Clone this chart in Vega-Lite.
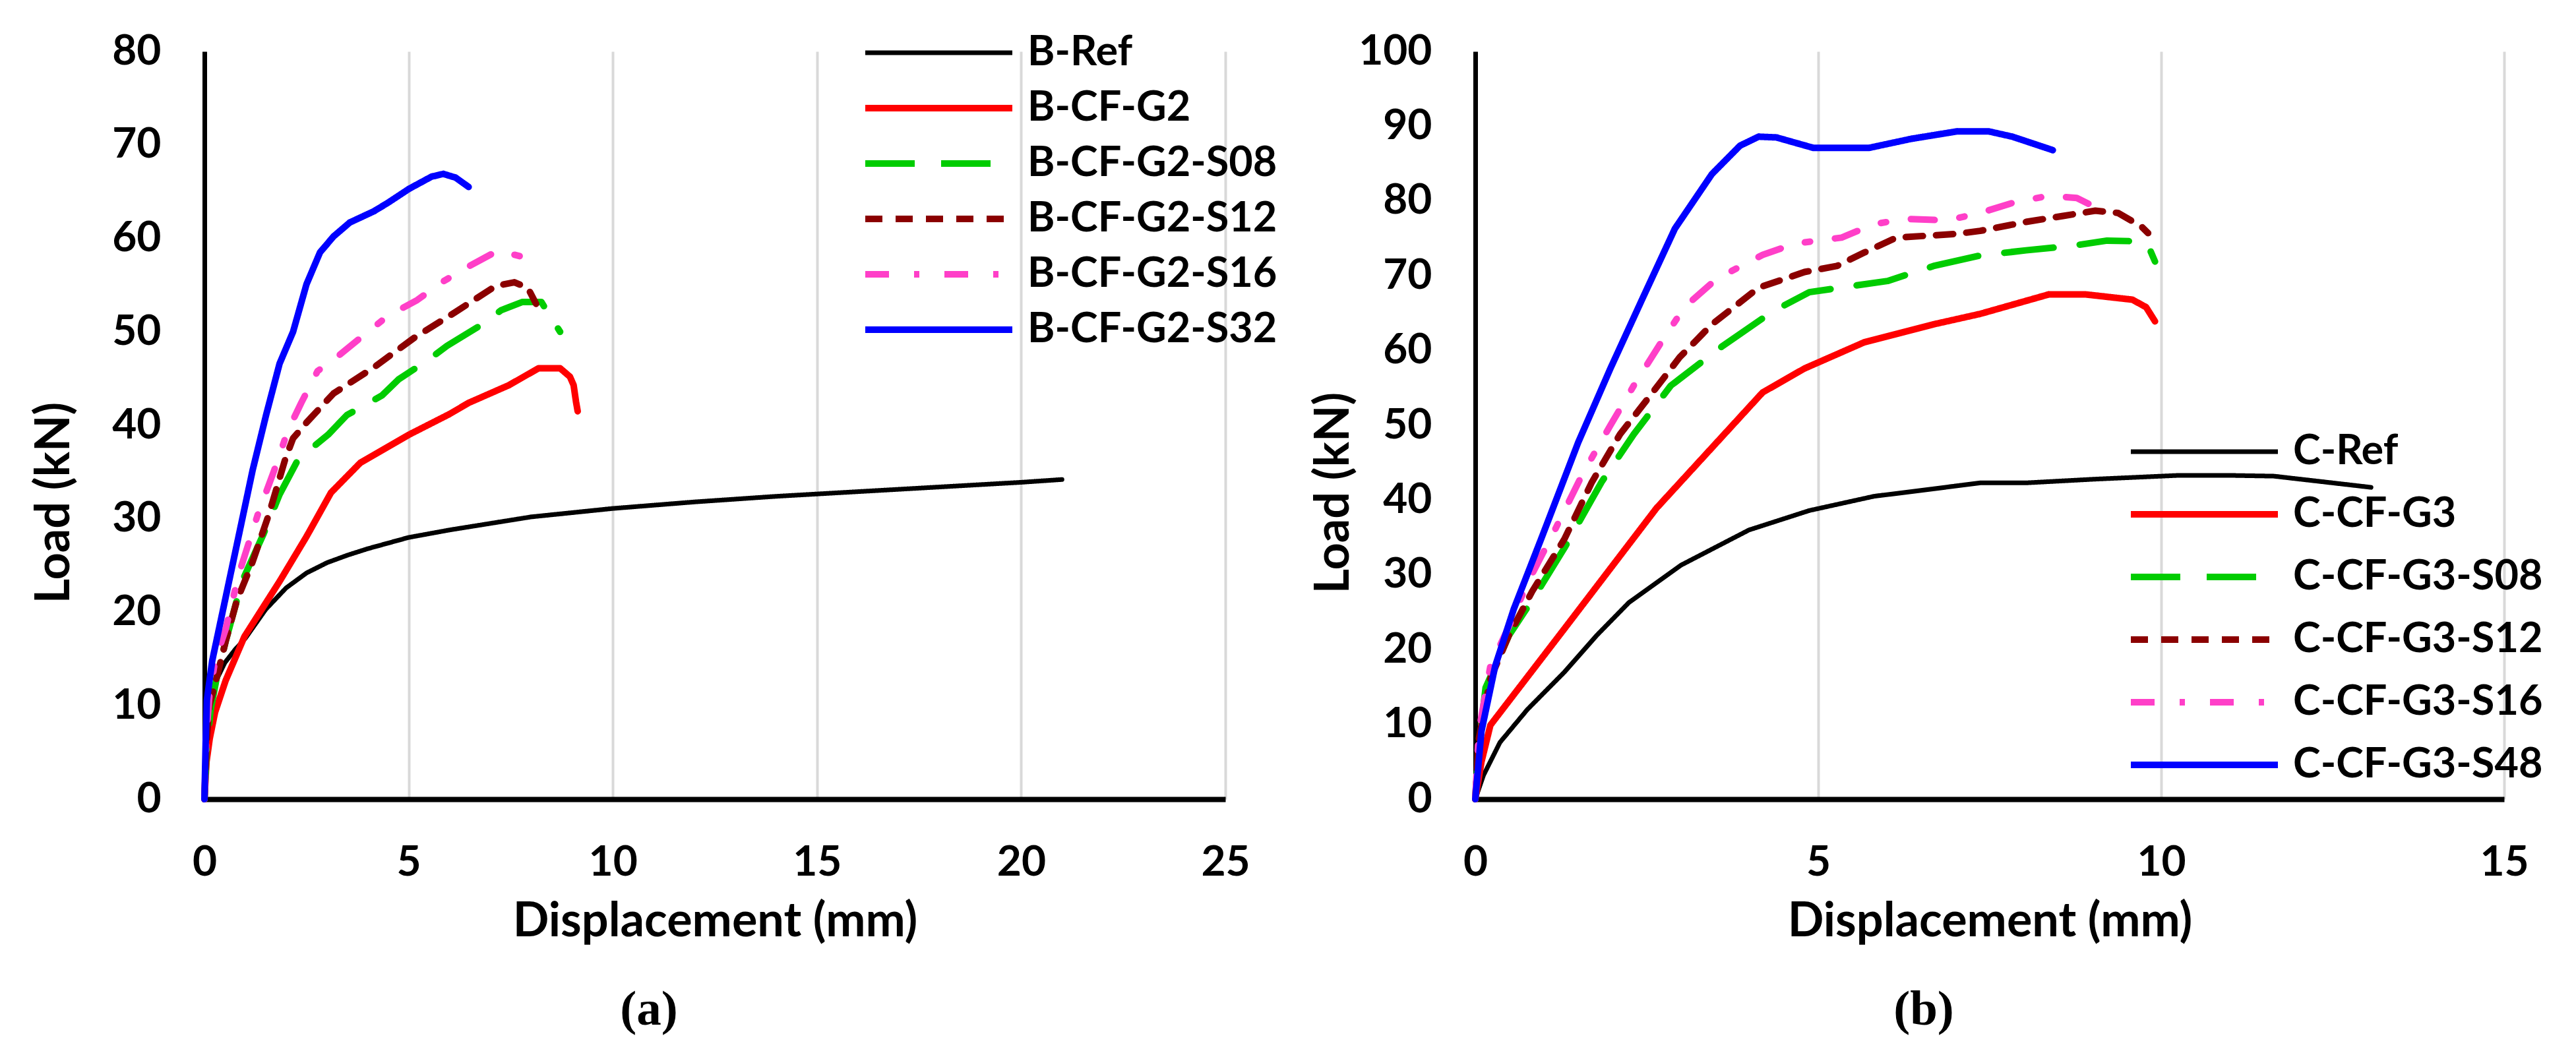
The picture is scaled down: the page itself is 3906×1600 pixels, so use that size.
{
  "$schema": "https://vega.github.io/schema/vega-lite/v6.json",
  "autosize": {"type": "pad"},
  "padding": {"left": 46, "top": 46, "right": 10, "bottom": 10},
  "background": "white",
  "bounds": "flush",
  "spacing": 379,
  "config": {
    "view": {"stroke": null},
    "font": "Lato",
    "axis": {
      "ticks": false,
      "tickSize": 0,
      "domainColor": "#000000",
      "labelFont": "Lato",
      "labelFontSize": 64,
      "labelFontWeight": "bold",
      "labelColor": "#000000",
      "labelFlush": false,
      "labelOverlap": false,
      "labelBound": false,
      "titleFont": "Lato",
      "titleFontSize": 72,
      "titleFontWeight": "bold",
      "titleColor": "#000000"
    },
    "axisX": {
      "grid": true,
      "gridColor": "#D9D9D9",
      "gridWidth": 4,
      "domainWidth": 8,
      "labelPadding": 96,
      "labelBaseline": "middle",
      "titleY": 185,
      "titleBaseline": "middle"
    },
    "axisY": {
      "grid": false,
      "domainWidth": 7,
      "labelPadding": 66,
      "titleBaseline": "middle"
    },
    "legend": {
      "title": null,
      "orient": "none",
      "symbolType": "stroke",
      "symbolSize": 49729,
      "symbolStrokeWidth": 12,
      "clipHeight": 64,
      "labelFont": "Lato",
      "labelFontSize": 63,
      "labelFontWeight": "bold",
      "labelColor": "#000000",
      "labelLimit": 0,
      "labelOffset": 18
    },
    "title": {
      "font": "Liberation Serif",
      "fontSize": 75,
      "fontWeight": "bold",
      "color": "#000000",
      "orient": "bottom",
      "offset": 62,
      "dx": -100
    }
  },
  "datasets": {
    "beams_b": [
      {"series": "B-Ref", "disp": 0, "load": 0},
      {"series": "B-Ref", "disp": 0.03, "load": 4},
      {"series": "B-Ref", "disp": 0.08, "load": 8},
      {"series": "B-Ref", "disp": 0.15, "load": 10.5},
      {"series": "B-Ref", "disp": 0.3, "load": 12.8},
      {"series": "B-Ref", "disp": 0.5, "load": 14.6},
      {"series": "B-Ref", "disp": 0.75, "load": 16},
      {"series": "B-Ref", "disp": 1.0, "load": 17.2},
      {"series": "B-Ref", "disp": 1.5, "load": 20.3},
      {"series": "B-Ref", "disp": 2.0, "load": 22.6},
      {"series": "B-Ref", "disp": 2.5, "load": 24.2},
      {"series": "B-Ref", "disp": 3.0, "load": 25.3},
      {"series": "B-Ref", "disp": 3.5, "load": 26.1},
      {"series": "B-Ref", "disp": 4.0, "load": 26.8},
      {"series": "B-Ref", "disp": 5.0, "load": 28},
      {"series": "B-Ref", "disp": 6.0, "load": 28.8},
      {"series": "B-Ref", "disp": 7.0, "load": 29.5},
      {"series": "B-Ref", "disp": 8.0, "load": 30.2},
      {"series": "B-Ref", "disp": 10.0, "load": 31.1},
      {"series": "B-Ref", "disp": 12.0, "load": 31.8},
      {"series": "B-Ref", "disp": 14.0, "load": 32.4},
      {"series": "B-Ref", "disp": 16.0, "load": 32.9},
      {"series": "B-Ref", "disp": 18.0, "load": 33.4},
      {"series": "B-Ref", "disp": 20.0, "load": 33.9},
      {"series": "B-Ref", "disp": 21.0, "load": 34.2},

      {"series": "B-CF-G2", "disp": 0, "load": 0},
      {"series": "B-CF-G2", "disp": 0.05, "load": 4},
      {"series": "B-CF-G2", "disp": 0.13, "load": 6.5},
      {"series": "B-CF-G2", "disp": 0.26, "load": 9.3},
      {"series": "B-CF-G2", "disp": 0.52, "load": 12.7},
      {"series": "B-CF-G2", "disp": 0.98, "load": 17.4},
      {"series": "B-CF-G2", "disp": 1.84, "load": 23.3},
      {"series": "B-CF-G2", "disp": 2.5, "load": 28.1},
      {"series": "B-CF-G2", "disp": 3.1, "load": 32.8},
      {"series": "B-CF-G2", "disp": 3.82, "load": 36},
      {"series": "B-CF-G2", "disp": 5.01, "load": 39},
      {"series": "B-CF-G2", "disp": 6.0, "load": 41.2},
      {"series": "B-CF-G2", "disp": 6.47, "load": 42.4},
      {"series": "B-CF-G2", "disp": 7.46, "load": 44.3},
      {"series": "B-CF-G2", "disp": 8.18, "load": 46.1},
      {"series": "B-CF-G2", "disp": 8.71, "load": 46.1},
      {"series": "B-CF-G2", "disp": 8.95, "load": 45.2},
      {"series": "B-CF-G2", "disp": 9.04, "load": 44.3},
      {"series": "B-CF-G2", "disp": 9.1, "load": 42.5},
      {"series": "B-CF-G2", "disp": 9.14, "load": 41.5},

      {"series": "B-CF-G2-S08", "disp": 0, "load": 0},
      {"series": "B-CF-G2-S08", "disp": 0.05, "load": 5},
      {"series": "B-CF-G2-S08", "disp": 0.15, "load": 9.5},
      {"series": "B-CF-G2-S08", "disp": 0.3, "load": 13},
      {"series": "B-CF-G2-S08", "disp": 0.52, "load": 16.9},
      {"series": "B-CF-G2-S08", "disp": 0.92, "load": 23.3},
      {"series": "B-CF-G2-S08", "disp": 1.45, "load": 28.4},
      {"series": "B-CF-G2-S08", "disp": 1.84, "load": 32.6},
      {"series": "B-CF-G2-S08", "disp": 2.3, "load": 36.4},
      {"series": "B-CF-G2-S08", "disp": 3.03, "load": 39},
      {"series": "B-CF-G2-S08", "disp": 3.49, "load": 41.1},
      {"series": "B-CF-G2-S08", "disp": 4.35, "load": 43.2},
      {"series": "B-CF-G2-S08", "disp": 4.75, "load": 44.9},
      {"series": "B-CF-G2-S08", "disp": 5.48, "load": 47},
      {"series": "B-CF-G2-S08", "disp": 5.94, "load": 48.5},
      {"series": "B-CF-G2-S08", "disp": 6.8, "load": 50.8},
      {"series": "B-CF-G2-S08", "disp": 7.26, "load": 52.3},
      {"series": "B-CF-G2-S08", "disp": 7.79, "load": 53.2},
      {"series": "B-CF-G2-S08", "disp": 8.25, "load": 53.2},
      {"series": "B-CF-G2-S08", "disp": 8.52, "load": 51.3},
      {"series": "B-CF-G2-S08", "disp": 8.71, "load": 50},

      {"series": "B-CF-G2-S12", "disp": 0, "load": 0},
      {"series": "B-CF-G2-S12", "disp": 0.05, "load": 6},
      {"series": "B-CF-G2-S12", "disp": 0.12, "load": 10},
      {"series": "B-CF-G2-S12", "disp": 0.26, "load": 12.3},
      {"series": "B-CF-G2-S12", "disp": 0.52, "load": 16.9},
      {"series": "B-CF-G2-S12", "disp": 0.79, "load": 21.2},
      {"series": "B-CF-G2-S12", "disp": 1.18, "load": 25.4},
      {"series": "B-CF-G2-S12", "disp": 1.58, "load": 30.5},
      {"series": "B-CF-G2-S12", "disp": 1.98, "load": 36.4},
      {"series": "B-CF-G2-S12", "disp": 2.17, "load": 38.6},
      {"series": "B-CF-G2-S12", "disp": 2.5, "load": 40.3},
      {"series": "B-CF-G2-S12", "disp": 3.16, "load": 43.4},
      {"series": "B-CF-G2-S12", "disp": 4.15, "load": 46.2},
      {"series": "B-CF-G2-S12", "disp": 5.15, "load": 49.4},
      {"series": "B-CF-G2-S12", "disp": 6.14, "load": 52.1},
      {"series": "B-CF-G2-S12", "disp": 7.13, "load": 54.9},
      {"series": "B-CF-G2-S12", "disp": 7.59, "load": 55.3},
      {"series": "B-CF-G2-S12", "disp": 7.92, "load": 54.7},
      {"series": "B-CF-G2-S12", "disp": 8.12, "load": 53},

      {"series": "B-CF-G2-S16", "disp": 0, "load": 0},
      {"series": "B-CF-G2-S16", "disp": 0.05, "load": 7},
      {"series": "B-CF-G2-S16", "disp": 0.12, "load": 11},
      {"series": "B-CF-G2-S16", "disp": 0.26, "load": 14.8},
      {"series": "B-CF-G2-S16", "disp": 0.52, "load": 18.2},
      {"series": "B-CF-G2-S16", "disp": 0.85, "load": 24.2},
      {"series": "B-CF-G2-S16", "disp": 1.31, "load": 30.5},
      {"series": "B-CF-G2-S16", "disp": 1.71, "load": 35.2},
      {"series": "B-CF-G2-S16", "disp": 2.04, "load": 39.4},
      {"series": "B-CF-G2-S16", "disp": 2.37, "load": 42.4},
      {"series": "B-CF-G2-S16", "disp": 2.77, "load": 45.8},
      {"series": "B-CF-G2-S16", "disp": 3.3, "load": 47.5},
      {"series": "B-CF-G2-S16", "disp": 3.89, "load": 49.6},
      {"series": "B-CF-G2-S16", "disp": 4.49, "load": 51.7},
      {"series": "B-CF-G2-S16", "disp": 5.21, "load": 53.4},
      {"series": "B-CF-G2-S16", "disp": 5.81, "load": 55.3},
      {"series": "B-CF-G2-S16", "disp": 6.47, "load": 57},
      {"series": "B-CF-G2-S16", "disp": 7.19, "load": 58.7},
      {"series": "B-CF-G2-S16", "disp": 7.72, "load": 58.1},
      {"series": "B-CF-G2-S16", "disp": 8.05, "load": 57},

      {"series": "B-CF-G2-S32", "disp": 0, "load": 0},
      {"series": "B-CF-G2-S32", "disp": 0.03, "load": 6},
      {"series": "B-CF-G2-S32", "disp": 0.06, "load": 10.6},
      {"series": "B-CF-G2-S32", "disp": 0.19, "load": 14.8},
      {"series": "B-CF-G2-S32", "disp": 0.52, "load": 21.6},
      {"series": "B-CF-G2-S32", "disp": 0.85, "load": 28.4},
      {"series": "B-CF-G2-S32", "disp": 1.18, "load": 35.2},
      {"series": "B-CF-G2-S32", "disp": 1.51, "load": 41.1},
      {"series": "B-CF-G2-S32", "disp": 1.84, "load": 46.6},
      {"series": "B-CF-G2-S32", "disp": 2.17, "load": 50},
      {"series": "B-CF-G2-S32", "disp": 2.5, "load": 55.1},
      {"series": "B-CF-G2-S32", "disp": 2.83, "load": 58.5},
      {"series": "B-CF-G2-S32", "disp": 3.16, "load": 60.2},
      {"series": "B-CF-G2-S32", "disp": 3.56, "load": 61.7},
      {"series": "B-CF-G2-S32", "disp": 4.15, "load": 62.9},
      {"series": "B-CF-G2-S32", "disp": 4.49, "load": 63.8},
      {"series": "B-CF-G2-S32", "disp": 5.01, "load": 65.3},
      {"series": "B-CF-G2-S32", "disp": 5.56, "load": 66.6},
      {"series": "B-CF-G2-S32", "disp": 5.85, "load": 66.9},
      {"series": "B-CF-G2-S32", "disp": 6.15, "load": 66.5},
      {"series": "B-CF-G2-S32", "disp": 6.47, "load": 65.5}
    ],
    "columns_c": [
      {"series": "C-Ref", "disp": 0, "load": 0},
      {"series": "C-Ref", "disp": 0.12, "load": 3.2},
      {"series": "C-Ref", "disp": 0.36, "load": 7.6},
      {"series": "C-Ref", "disp": 0.76, "load": 12},
      {"series": "C-Ref", "disp": 1.3, "load": 17},
      {"series": "C-Ref", "disp": 1.77, "load": 21.9},
      {"series": "C-Ref", "disp": 2.24, "load": 26.3},
      {"series": "C-Ref", "disp": 3.0, "load": 31.3},
      {"series": "C-Ref", "disp": 3.99, "load": 36},
      {"series": "C-Ref", "disp": 4.87, "load": 38.6},
      {"series": "C-Ref", "disp": 5.81, "load": 40.5},
      {"series": "C-Ref", "disp": 6.68, "load": 41.5},
      {"series": "C-Ref", "disp": 7.36, "load": 42.3},
      {"series": "C-Ref", "disp": 8.03, "load": 42.3},
      {"series": "C-Ref", "disp": 9.04, "load": 42.8},
      {"series": "C-Ref", "disp": 10.25, "load": 43.3},
      {"series": "C-Ref", "disp": 11.0, "load": 43.3},
      {"series": "C-Ref", "disp": 11.64, "load": 43.2},
      {"series": "C-Ref", "disp": 12.4, "load": 42.4},
      {"series": "C-Ref", "disp": 13.06, "load": 41.7},

      {"series": "C-CF-G3", "disp": 0, "load": 0},
      {"series": "C-CF-G3", "disp": 0.09, "load": 5},
      {"series": "C-CF-G3", "disp": 0.22, "load": 9.9},
      {"series": "C-CF-G3", "disp": 1.3, "load": 22.8},
      {"series": "C-CF-G3", "disp": 2.64, "load": 38.9},
      {"series": "C-CF-G3", "disp": 4.19, "load": 54.4},
      {"series": "C-CF-G3", "disp": 4.8, "load": 57.6},
      {"series": "C-CF-G3", "disp": 5.67, "load": 61.1},
      {"series": "C-CF-G3", "disp": 6.68, "load": 63.5},
      {"series": "C-CF-G3", "disp": 7.36, "load": 64.9},
      {"series": "C-CF-G3", "disp": 8.36, "load": 67.5},
      {"series": "C-CF-G3", "disp": 8.9, "load": 67.5},
      {"series": "C-CF-G3", "disp": 9.58, "load": 66.8},
      {"series": "C-CF-G3", "disp": 9.78, "load": 65.8},
      {"series": "C-CF-G3", "disp": 9.91, "load": 63.9},

      {"series": "C-CF-G3-S08", "disp": 0, "load": 0},
      {"series": "C-CF-G3-S08", "disp": 0.05, "load": 7},
      {"series": "C-CF-G3-S08", "disp": 0.15, "load": 14.9},
      {"series": "C-CF-G3-S08", "disp": 0.49, "load": 21.9},
      {"series": "C-CF-G3-S08", "disp": 0.83, "load": 26.6},
      {"series": "C-CF-G3-S08", "disp": 1.3, "load": 33.6},
      {"series": "C-CF-G3-S08", "disp": 1.84, "load": 42.4},
      {"series": "C-CF-G3-S08", "disp": 2.31, "load": 48.8},
      {"series": "C-CF-G3-S08", "disp": 2.85, "load": 55.3},
      {"series": "C-CF-G3-S08", "disp": 3.59, "load": 60.5},
      {"series": "C-CF-G3-S08", "disp": 4.33, "load": 65.2},
      {"series": "C-CF-G3-S08", "disp": 4.87, "load": 67.8},
      {"series": "C-CF-G3-S08", "disp": 5.47, "load": 68.6},
      {"series": "C-CF-G3-S08", "disp": 6.01, "load": 69.3},
      {"series": "C-CF-G3-S08", "disp": 6.68, "load": 71.3},
      {"series": "C-CF-G3-S08", "disp": 7.36, "load": 72.7},
      {"series": "C-CF-G3-S08", "disp": 8.03, "load": 73.4},
      {"series": "C-CF-G3-S08", "disp": 8.7, "load": 74},
      {"series": "C-CF-G3-S08", "disp": 9.21, "load": 74.7},
      {"series": "C-CF-G3-S08", "disp": 9.71, "load": 74.6},
      {"series": "C-CF-G3-S08", "disp": 9.84, "load": 73.4},
      {"series": "C-CF-G3-S08", "disp": 9.91, "load": 71.9},

      {"series": "C-CF-G3-S12", "disp": 0, "load": 0},
      {"series": "C-CF-G3-S12", "disp": 0.05, "load": 8},
      {"series": "C-CF-G3-S12", "disp": 0.22, "load": 16.1},
      {"series": "C-CF-G3-S12", "disp": 0.49, "load": 21.9},
      {"series": "C-CF-G3-S12", "disp": 0.83, "load": 27.8},
      {"series": "C-CF-G3-S12", "disp": 1.3, "load": 34.8},
      {"series": "C-CF-G3-S12", "disp": 1.7, "load": 42.4},
      {"series": "C-CF-G3-S12", "disp": 2.11, "load": 48.8},
      {"series": "C-CF-G3-S12", "disp": 2.51, "load": 53.5},
      {"series": "C-CF-G3-S12", "disp": 2.98, "load": 59.1},
      {"series": "C-CF-G3-S12", "disp": 3.45, "load": 63.5},
      {"series": "C-CF-G3-S12", "disp": 4.13, "load": 68.4},
      {"series": "C-CF-G3-S12", "disp": 4.8, "load": 70.5},
      {"series": "C-CF-G3-S12", "disp": 5.27, "load": 71.3},
      {"series": "C-CF-G3-S12", "disp": 5.67, "load": 73.1},
      {"series": "C-CF-G3-S12", "disp": 6.14, "load": 75.1},
      {"series": "C-CF-G3-S12", "disp": 7.02, "load": 75.6},
      {"series": "C-CF-G3-S12", "disp": 7.36, "load": 76},
      {"series": "C-CF-G3-S12", "disp": 8.03, "load": 77.2},
      {"series": "C-CF-G3-S12", "disp": 8.57, "load": 78},
      {"series": "C-CF-G3-S12", "disp": 9.04, "load": 78.7},
      {"series": "C-CF-G3-S12", "disp": 9.37, "load": 78.4},
      {"series": "C-CF-G3-S12", "disp": 9.71, "load": 76.6},
      {"series": "C-CF-G3-S12", "disp": 9.81, "load": 75.7},

      {"series": "C-CF-G3-S16", "disp": 0, "load": 0},
      {"series": "C-CF-G3-S16", "disp": 0.05, "load": 9},
      {"series": "C-CF-G3-S16", "disp": 0.22, "load": 17.8},
      {"series": "C-CF-G3-S16", "disp": 0.49, "load": 23.1},
      {"series": "C-CF-G3-S16", "disp": 0.76, "load": 28.9},
      {"series": "C-CF-G3-S16", "disp": 1.16, "load": 36},
      {"series": "C-CF-G3-S16", "disp": 1.57, "load": 43.6},
      {"series": "C-CF-G3-S16", "disp": 1.97, "load": 50},
      {"series": "C-CF-G3-S16", "disp": 2.31, "load": 55.3},
      {"series": "C-CF-G3-S16", "disp": 2.71, "load": 61.1},
      {"series": "C-CF-G3-S16", "disp": 3.05, "load": 65.8},
      {"series": "C-CF-G3-S16", "disp": 3.52, "load": 69.6},
      {"series": "C-CF-G3-S16", "disp": 4.19, "load": 72.8},
      {"series": "C-CF-G3-S16", "disp": 4.66, "load": 74.3},
      {"series": "C-CF-G3-S16", "disp": 5.34, "load": 75.1},
      {"series": "C-CF-G3-S16", "disp": 5.81, "load": 76.9},
      {"series": "C-CF-G3-S16", "disp": 6.28, "load": 77.6},
      {"series": "C-CF-G3-S16", "disp": 6.88, "load": 77.4},
      {"series": "C-CF-G3-S16", "disp": 7.36, "load": 78.4},
      {"series": "C-CF-G3-S16", "disp": 7.89, "load": 79.9},
      {"series": "C-CF-G3-S16", "disp": 8.37, "load": 80.7},
      {"series": "C-CF-G3-S16", "disp": 8.77, "load": 80.4},
      {"series": "C-CF-G3-S16", "disp": 8.97, "load": 79.5},

      {"series": "C-CF-G3-S48", "disp": 0, "load": 0},
      {"series": "C-CF-G3-S48", "disp": 0.09, "load": 9.1},
      {"series": "C-CF-G3-S48", "disp": 0.29, "load": 17.8},
      {"series": "C-CF-G3-S48", "disp": 0.56, "load": 25.4},
      {"series": "C-CF-G3-S48", "disp": 0.96, "load": 34.8},
      {"series": "C-CF-G3-S48", "disp": 1.5, "load": 47.7},
      {"series": "C-CF-G3-S48", "disp": 1.97, "load": 57.6},
      {"series": "C-CF-G3-S48", "disp": 2.44, "load": 67},
      {"series": "C-CF-G3-S48", "disp": 2.91, "load": 76.3},
      {"series": "C-CF-G3-S48", "disp": 3.45, "load": 83.6},
      {"series": "C-CF-G3-S48", "disp": 3.86, "load": 87.4},
      {"series": "C-CF-G3-S48", "disp": 4.13, "load": 88.6},
      {"series": "C-CF-G3-S48", "disp": 4.39, "load": 88.5},
      {"series": "C-CF-G3-S48", "disp": 4.93, "load": 87.1},
      {"series": "C-CF-G3-S48", "disp": 5.74, "load": 87.1},
      {"series": "C-CF-G3-S48", "disp": 6.35, "load": 88.3},
      {"series": "C-CF-G3-S48", "disp": 7.02, "load": 89.3},
      {"series": "C-CF-G3-S48", "disp": 7.49, "load": 89.3},
      {"series": "C-CF-G3-S48", "disp": 7.83, "load": 88.6},
      {"series": "C-CF-G3-S48", "disp": 8.42, "load": 86.8}
    ]
  },
  "hconcat": [
    {
      "title": {"text": "(a)"},
      "width": 1548,
      "height": 1134,
      "data": {"name": "beams_b"},
      "mark": {"type": "line", "strokeCap": "round", "strokeJoin": "round"},
      "encoding": {
        "x": {
          "field": "disp",
          "type": "quantitative",
          "scale": {"domain": [0, 25], "nice": false},
          "axis": {"title": "Displacement (mm)", "values": [0, 5, 10, 15, 20, 25]}
        },
        "y": {
          "field": "load",
          "type": "quantitative",
          "scale": {"domain": [0, 80], "nice": false},
          "axis": {"title": "Load (kN)", "values": [0, 10, 20, 30, 40, 50, 60, 70, 80], "titleX": -228, "titleY": 684}
        },
        "color": {
          "field": "series",
          "type": "nominal",
          "scale": {
            "domain": ["B-Ref", "B-CF-G2", "B-CF-G2-S08", "B-CF-G2-S12", "B-CF-G2-S16", "B-CF-G2-S32"],
            "range": ["#000000", "#FF0000", "#00CC00", "#8B0000", "#FF3FC8", "#0000FF"]
          },
          "legend": {"legendX": 997, "legendY": -30, "rowPadding": 20}
        },
        "strokeDash": {
          "field": "series",
          "type": "nominal",
          "scale": {
            "domain": ["B-Ref", "B-CF-G2", "B-CF-G2-S08", "B-CF-G2-S12", "B-CF-G2-S16", "B-CF-G2-S32"],
            "range": [[1, 0], [1, 0], [75, 40], [26, 20], [36, 38, 8, 38], [1, 0]]
          }
        },
        "strokeWidth": {
          "field": "series",
          "type": "nominal",
          "scale": {
            "type": "ordinal",
            "domain": ["B-Ref", "B-CF-G2", "B-CF-G2-S08", "B-CF-G2-S12", "B-CF-G2-S16", "B-CF-G2-S32"],
            "range": [7, 10, 10, 10, 10, 10]
          },
          "legend": null
        }
      }
    },
    {
      "title": {"text": "(b)"},
      "width": 1560,
      "height": 1134,
      "data": {"name": "columns_c"},
      "mark": {"type": "line", "strokeCap": "round", "strokeJoin": "round"},
      "encoding": {
        "x": {
          "field": "disp",
          "type": "quantitative",
          "scale": {"domain": [0, 15], "nice": false},
          "axis": {"title": "Displacement (mm)", "values": [0, 5, 10, 15]}
        },
        "y": {
          "field": "load",
          "type": "quantitative",
          "scale": {"domain": [0, 100], "nice": false},
          "axis": {"title": "Load (kN)", "values": [0, 10, 20, 30, 40, 50, 60, 70, 80, 90, 100], "titleX": -215, "titleY": 669}
        },
        "color": {
          "field": "series",
          "type": "nominal",
          "scale": {
            "domain": ["C-Ref", "C-CF-G3", "C-CF-G3-S08", "C-CF-G3-S12", "C-CF-G3-S16", "C-CF-G3-S48"],
            "range": ["#000000", "#FF0000", "#00CC00", "#8B0000", "#FF3FC8", "#0000FF"]
          },
          "legend": {"legendX": 989, "legendY": 575, "rowPadding": 31}
        },
        "strokeDash": {
          "field": "series",
          "type": "nominal",
          "scale": {
            "domain": ["C-Ref", "C-CF-G3", "C-CF-G3-S08", "C-CF-G3-S12", "C-CF-G3-S16", "C-CF-G3-S48"],
            "range": [[1, 0], [1, 0], [75, 40], [26, 20], [36, 38, 8, 38], [1, 0]]
          }
        },
        "strokeWidth": {
          "field": "series",
          "type": "nominal",
          "scale": {
            "type": "ordinal",
            "domain": ["C-Ref", "C-CF-G3", "C-CF-G3-S08", "C-CF-G3-S12", "C-CF-G3-S16", "C-CF-G3-S48"],
            "range": [7, 10, 10, 10, 10, 10]
          },
          "legend": null
        }
      }
    }
  ],
  "resolve": {"scale": {"color": "independent", "strokeDash": "independent", "strokeWidth": "independent", "x": "independent", "y": "independent"}, "legend": {"color": "independent", "strokeDash": "independent"}}
}
